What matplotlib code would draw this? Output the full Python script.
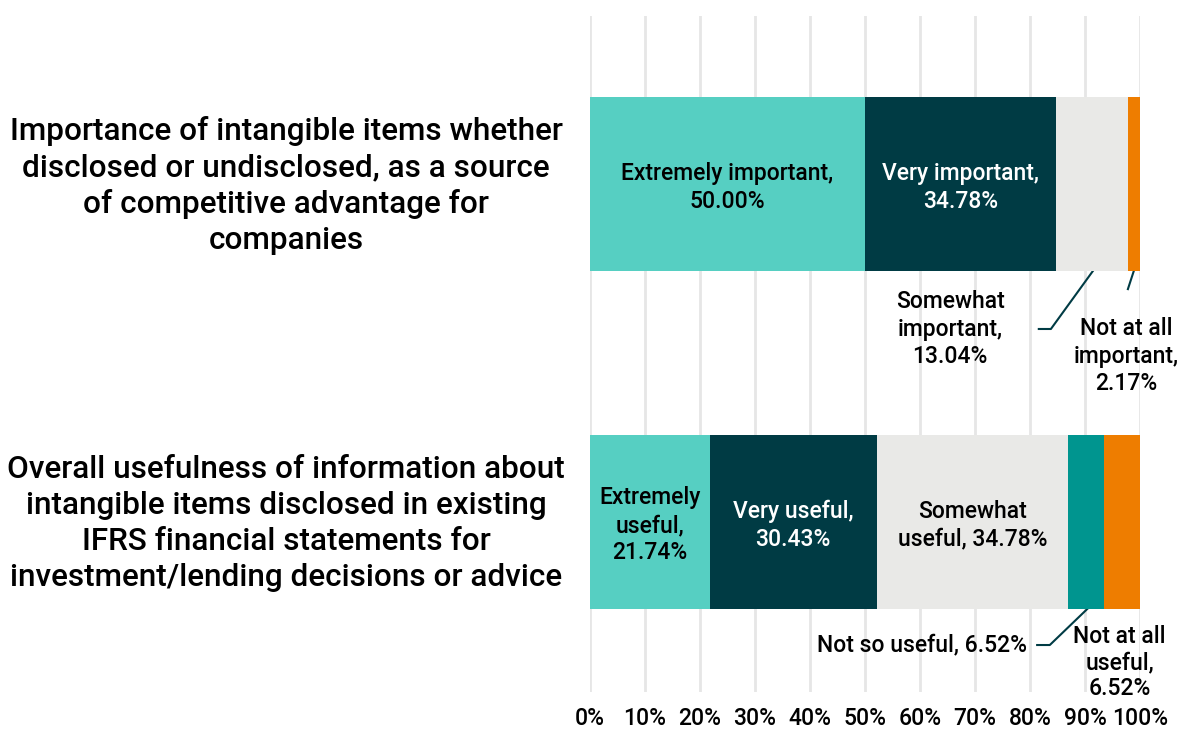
import matplotlib
matplotlib.use('Agg')
import matplotlib.pyplot as plt
from matplotlib import transforms

plt.rcParams['font.family'] = ['Roboto', 'DejaVu Sans']
plt.rcParams['font.weight'] = 'medium'

# survey questions (rows) and their response shares
questions = [
    'Importance of intangible items whether\ndisclosed or undisclosed, as a source\nof competitive advantage for\ncompanies',
    'Overall usefulness of information about\nintangible items disclosed in existing\nIFRS financial statements for\ninvestment/lending decisions or advice',
]
importance_labels = ['Extremely important', 'Very important', 'Somewhat\nimportant', 'Not at all\nimportant']
importance_values = [50.00, 34.78, 13.04, 2.17]
usefulness_labels = ['Extremely\nuseful', 'Very useful', 'Somewhat\nuseful', 'Not so useful', 'Not at all\nuseful']
usefulness_values = [21.74, 30.43, 34.78, 6.52, 6.52]
ticks = list(range(0, 101, 10))

light_teal = '#56CFC2'
dark_teal = '#003B44'
pale_grey = '#E9E9E7'
teal = '#00958F'
orange = '#EE7D00'
importance_colors = [light_teal, dark_teal, pale_grey, orange]
usefulness_colors = [light_teal, dark_teal, pale_grey, teal, orange]

fig = plt.figure(figsize=(11.85, 7.31), dpi=100)
ax = fig.add_axes([590 / 1185, 39 / 731, 550 / 1185, 676 / 731])

bar_h = 0.512
rows = [(importance_values, importance_colors), (usefulness_values, usefulness_colors)]
lefts_all = []
for i, (vals, cols) in enumerate(rows):
    left = 0
    lefts = []
    for v, c in zip(vals, cols):
        ax.barh(i, v, left=left, height=bar_h, color=c, zorder=3)
        lefts.append(left)
        left += v
    lefts_all.append(lefts)

fs = 16.5

ax.set_xlim(0, 100)
ax.set_ylim(1.503, -0.497)
ax.set_xticks(ticks)
ax.set_xticklabels(['{}%'.format(t) for t in ticks], fontsize=16.5)
ax.tick_params(axis='x', length=0, pad=11)
ax.set_yticks([])
for s in ax.spines.values():
    s.set_visible(False)
ax.grid(axis='x', color='#E6E6E6', linewidth=2, zorder=0)

bot0 = 0 + bar_h / 2
bot1 = 1 + bar_h / 2
ls = 1.25
dy = 0.01

# labels inside the bars
il, ul = lefts_all
ax.text(il[0] + importance_values[0] / 2, dy, '{},\n{:.2f}%'.format(importance_labels[0], importance_values[0]),
        ha='center', va='center', fontsize=fs, color='black', zorder=4, linespacing=ls)
ax.text(il[1] + importance_values[1] / 2, dy, '{},\n{:.2f}%'.format(importance_labels[1], importance_values[1]),
        ha='center', va='center', fontsize=fs, color='white', zorder=4, linespacing=ls)
ax.text(ul[0] + usefulness_values[0] / 2, 1 + dy, '{},\n{:.2f}%'.format(usefulness_labels[0], usefulness_values[0]),
        ha='center', va='center', fontsize=fs, color='black', zorder=4, linespacing=ls)
ax.text(ul[1] + usefulness_values[1] / 2, 1 + dy, '{},\n{:.2f}%'.format(usefulness_labels[1], usefulness_values[1]),
        ha='center', va='center', fontsize=fs, color='white', zorder=4, linespacing=ls)
ax.text(ul[2] + usefulness_values[2] / 2, 1 + dy, 'Somewhat\nuseful, {:.2f}%'.format(usefulness_values[2]),
        ha='center', va='center', fontsize=fs, color='black', zorder=4, linespacing=ls)

# callouts below the bars
lc = dark_teal
ax.plot([91.5, 83.8, 81.6], [bot0, 0.429, 0.429], color=lc, lw=1.5, clip_on=False)
ax.text(65.5, 0.43, '{},\n{:.2f}%'.format(importance_labels[2], importance_values[2]),
        ha='center', va='center', fontsize=fs, linespacing=ls)
ax.plot([98.9, 97.8], [bot0, 0.311], color=lc, lw=1.5, clip_on=False)
ax.text(97.5, 0.51, '{},\n{:.2f}%'.format(importance_labels[3], importance_values[3]),
        ha='center', va='center', fontsize=fs, linespacing=ls)

ax.plot([90.5, 83.6, 81.3], [bot1, 1.364, 1.364], color=lc, lw=1.5, clip_on=False)
ax.text(79.5, 1.364, '{}, {:.2f}%'.format(usefulness_labels[3], usefulness_values[3]),
        ha='right', va='center', fontsize=fs)
ax.text(96.3, 1.416, '{},\n{:.2f}%'.format(usefulness_labels[4], usefulness_values[4]),
        ha='center', va='center', fontsize=fs, linespacing=1.15)

# question text on the left
trans = transforms.blended_transform_factory(fig.transFigure, ax.transData)
for i, q in enumerate(questions):
    ax.text(286 / 1185, i + 0.005, q, transform=trans, ha='center', va='center',
            fontsize=22.7, linespacing=1.3, clip_on=False)

plt.savefig('out.png', dpi=100)
